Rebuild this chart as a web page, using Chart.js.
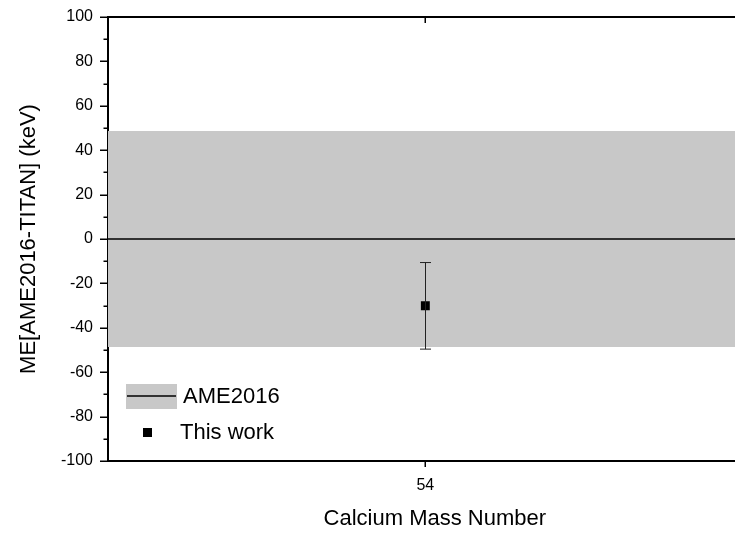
<!DOCTYPE html>
<html>
<head>
<meta charset="utf-8">
<script src="https://cdn.jsdelivr.net/npm/chart.js@4/dist/chart.umd.min.js"></script>
<style>
  html, body { margin: 0; padding: 0; background: #fff; overflow: hidden; }
  #wrap { width: 735px; height: 533px; position: relative; overflow: hidden; }
  #c { position: absolute; left: 0; top: 0; }
</style>
</head>
<body>
<div id="wrap"><canvas id="c" width="768" height="533"></canvas></div>
<script>
// Mass number of the measured calcium isotope
const massNumbers = [54];
// Mass-excess difference AME2016 - TITAN (keV) and its 1-sigma uncertainty
const deltaME = [-30.1];
const deltaErr = [19.5];
// AME2016 uncertainty band half-width (keV)
const ameUncertainty = 48.6;
// Axis extents
const xRange = [53.5, 54.53];
const yRange = [-100, 100];
const yMajorStep = 20;
const yMinorStep = 10;
const legendLabels = ['AME2016', 'This work'];

const FONT = '"Liberation Sans", Arial, Helvetica, sans-serif';
const BAND = '#c8c8c8';

// Axis frame: top line, ticks on the left axis (major + minor), ticks at the x values
const framePlugin = {
  id: 'frame',
  afterDraw(chart) {
    const { ctx, chartArea: a, scales } = chart;
    const y = scales.y, x = scales.x;
    ctx.save();
    ctx.strokeStyle = '#000';
    ctx.lineWidth = 2;
    ctx.beginPath();
    ctx.moveTo(a.left - 1, a.top);
    ctx.lineTo(a.right, a.top);
    ctx.stroke();

    ctx.lineWidth = 1.5;
    for (let v = yRange[0]; v <= yRange[1]; v += yMinorStep) {
      const py = Math.round(y.getPixelForValue(v)) + 0.25;
      const len = (v % yMajorStep === 0) ? 8 : 4.5;
      ctx.beginPath();
      ctx.moveTo(a.left - len, py);
      ctx.lineTo(a.left, py);
      ctx.stroke();
    }
    massNumbers.forEach(m => {
      const px = Math.round(x.getPixelForValue(m)) + 0.25;
      ctx.beginPath();
      ctx.moveTo(px, a.bottom);
      ctx.lineTo(px, a.bottom + 6);
      ctx.stroke();
      ctx.beginPath();
      ctx.moveTo(px, a.top);
      ctx.lineTo(px, a.top + 6);
      ctx.stroke();
    });
    ctx.restore();
  }
};

// Vertical error bars with caps for the measured points
const errorBarPlugin = {
  id: 'errorBars',
  afterDatasetsDraw(chart) {
    const { ctx, scales } = chart;
    ctx.save();
    ctx.strokeStyle = '#222';
    ctx.lineWidth = 1;
    massNumbers.forEach((m, i) => {
      const px = Math.round(scales.x.getPixelForValue(m)) + 0.5;
      const yHi = scales.y.getPixelForValue(deltaME[i] + deltaErr[i]);
      const yLo = scales.y.getPixelForValue(deltaME[i] - deltaErr[i]);
      ctx.beginPath();
      ctx.moveTo(px, yHi); ctx.lineTo(px, yLo);
      ctx.moveTo(px - 5.5, yHi); ctx.lineTo(px + 5.5, yHi);
      ctx.moveTo(px - 5.5, yLo); ctx.lineTo(px + 5.5, yLo);
      ctx.stroke();
    });
    ctx.restore();
  }
};

// Legend inside the plot, lower left
const legendPlugin = {
  id: 'innerLegend',
  afterDraw(chart) {
    const { ctx } = chart;
    ctx.save();
    ctx.fillStyle = BAND;
    ctx.fillRect(126, 384, 51, 25);
    ctx.strokeStyle = '#000';
    ctx.lineWidth = 1.5;
    ctx.beginPath();
    ctx.moveTo(127, 396); ctx.lineTo(176, 396);
    ctx.stroke();
    ctx.fillStyle = '#000';
    ctx.fillRect(143, 428, 9, 9);
    ctx.font = '22px ' + FONT;
    ctx.textBaseline = 'middle';
    ctx.textAlign = 'left';
    ctx.fillText(legendLabels[0], 183, 397);
    ctx.fillText(legendLabels[1], 180, 433);
    ctx.restore();
  }
};

new Chart(document.getElementById('c'), {
  type: 'scatter',
  data: {
    datasets: [
      {
        label: legendLabels[1],
        data: massNumbers.map((m, i) => ({ x: m, y: deltaME[i] })),
        pointStyle: 'rect',
        pointRadius: 6.3,
        backgroundColor: '#000',
        borderColor: '#000',
        borderWidth: 0,
        order: 0
      },
      {
        label: legendLabels[0],
        type: 'line',
        data: [{ x: xRange[0], y: 0 }, { x: xRange[1], y: 0 }],
        borderColor: '#000',
        borderWidth: 1.5,
        pointRadius: 0,
        fill: false,
        order: 1
      },
      {
        label: 'band',
        type: 'line',
        data: [{ x: xRange[0], y: ameUncertainty }, { x: xRange[1], y: ameUncertainty }],
        borderWidth: 0,
        borderColor: 'rgba(0,0,0,0)',
        backgroundColor: BAND,
        pointRadius: 0,
        fill: { value: -ameUncertainty },
        order: 2
      }
    ]
  },
  options: {
    responsive: false,
    animation: false,
    devicePixelRatio: 1,
    layout: { padding: { top: 17, right: 0, bottom: 0, left: 0 } },
    plugins: { legend: { display: false }, tooltip: { enabled: false } },
    scales: {
      x: {
        type: 'linear',
        min: xRange[0],
        max: xRange[1],
        afterBuildTicks(scale) { scale.ticks = massNumbers.map(v => ({ value: v })); },
        afterFit(scale) { scale.height = 72; scale.paddingLeft = 0; scale.paddingRight = 0; },
        grid: { display: false, drawTicks: false },
        border: { display: true, color: '#000', width: 2 },
        ticks: { color: '#000', font: { family: FONT, size: 16 }, padding: 15, maxRotation: 0 },
        title: {
          display: true,
          text: 'Calcium Mass Number',
          color: '#000',
          font: { family: FONT, size: 22 },
          padding: { top: 0, bottom: 1 }
        }
      },
      y: {
        min: yRange[0],
        max: yRange[1],
        afterFit(scale) { scale.width = 108; scale.paddingTop = 0; scale.paddingBottom = 0; },
        grid: { display: false, drawTicks: false },
        border: { display: true, color: '#000', width: 2 },
        ticks: { stepSize: yMajorStep, color: '#000', font: { family: FONT, size: 16 }, padding: 15 },
        title: {
          display: true,
          text: 'ME[AME2016-TITAN] (keV)',
          color: '#000',
          font: { family: FONT, size: 22 },
          padding: { top: 16, bottom: 0 }
        }
      }
    }
  },
  plugins: [framePlugin, errorBarPlugin, legendPlugin]
});
</script>
</body>
</html>
